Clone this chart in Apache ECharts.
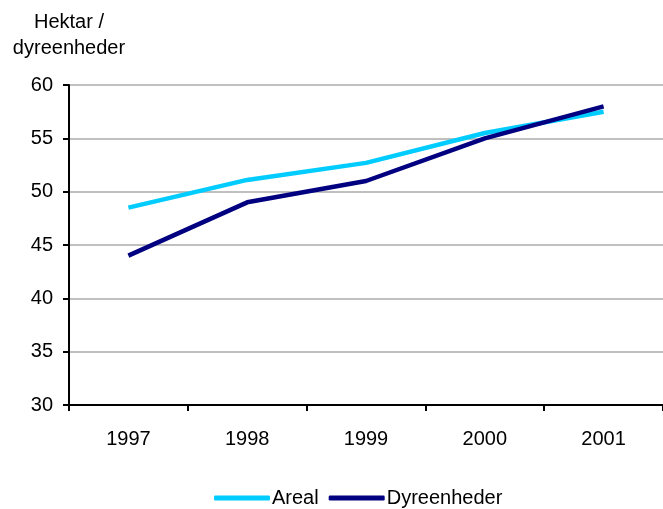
<!DOCTYPE html>
<html>
<head>
<meta charset="utf-8">
<script src="https://cdn.jsdelivr.net/npm/echarts@6/dist/echarts.min.js"></script>
<style>
  html, body { margin: 0; padding: 0; background: #fff; }
  #chart { width: 663px; height: 509px; }
</style>
</head>
<body>
<div id="chart"></div>
<script>
const years = ['1997', '1998', '1999', '2000', '2001'];
const areal = [48.5, 51.1, 52.7, 55.5, 57.5];
const dyreenheder = [44, 49, 51, 55, 58];

const font = 'Liberation Sans, Arial, sans-serif';

const myChart = echarts.init(document.getElementById('chart'));
myChart.setOption({
  animation: false,
  grid: {
    left: 69,
    right: 0,
    top: 85,
    bottom: 104,
  },
  legend: {
    bottom: -4,
    left: 209,
    icon: 'roundRect',
    itemWidth: 56,
    itemHeight: 5,
    itemGap: 10,
    textStyle: { fontFamily: font, fontSize: 20, color: '#000', padding: [0, 0, 0, -3] },
    data: ['Areal', 'Dyreenheder'],
  },
  xAxis: {
    type: 'category',
    data: years,
    boundaryGap: true,
    axisLine: { lineStyle: { color: '#000', width: 2 } },
    axisTick: { show: true, length: 6, lineStyle: { color: '#000', width: 2 } },
    axisLabel: { color: '#000', fontFamily: font, fontSize: 20, margin: 24 },
    splitLine: { show: false },
  },
  yAxis: {
    type: 'value',
    min: 30,
    max: 60,
    interval: 5,
    name: 'Hektar /\ndyreenheder',
    nameLocation: 'end',
    nameGap: 24,
    nameTextStyle: {
      color: '#000', fontFamily: font, fontSize: 20, lineHeight: 26, align: 'center',
    },
    axisLine: { show: true, lineStyle: { color: '#000', width: 2 } },
    axisTick: { show: true, length: 6, lineStyle: { color: '#000', width: 2 } },
    axisLabel: { color: '#000', fontFamily: font, fontSize: 20, margin: 16 },
    splitLine: { show: true, lineStyle: { color: '#c0c0c0', width: 2 } },
  },
  series: [
    {
      name: 'Areal',
      type: 'line',
      data: areal,
      symbol: 'none',
      itemStyle: { color: '#00ccff' },
      lineStyle: { color: '#00ccff', width: 4.5 },
    },
    {
      name: 'Dyreenheder',
      type: 'line',
      data: dyreenheder,
      symbol: 'none',
      itemStyle: { color: '#000080' },
      lineStyle: { color: '#000080', width: 4.5 },
    },
  ],
});
</script>
</body>
</html>
